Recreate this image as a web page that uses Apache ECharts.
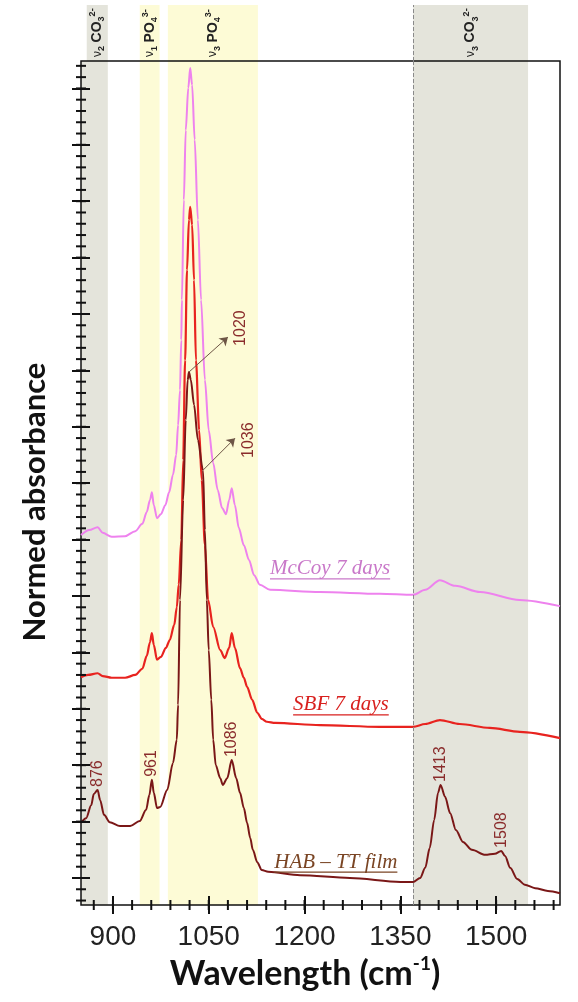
<!DOCTYPE html>
<html lang="en">
<head>
<meta charset="UTF-8">
<title>FTIR spectra</title>
<style>html,body{margin:0;padding:0;background:#fff}</style>
</head>
<body>
<div id="app" style="width:578px;height:1002px;"></div>
<script src="https://cdn.jsdelivr.net/npm/echarts@6.0.0/dist/echarts.min.js"></script>
<script>
// spectra: wavenumber (cm-1) and normed absorbance (offset curves)
const mccoyWave = [850,863,876,884,898,919,935,946,953,958,
  961,964,969,975,982,988,994,999,1002,1005,
  1007,1008,1011,1014,1018,1021,1024,1028,1033,1038,
  1044,1050,1057,1064,1071,1077,1082,1086,1091,1097,
  1105,1113,1121,1130,1146,1224,1318,1370,1389,1412,
  1436,1475,1537,1600];
const mccoyAbs = [6.08,6.17,6.22,6.12,6.05,6.06,6.15,6.28,6.49,6.70,
  6.84,6.61,6.38,6.45,6.61,6.84,7.15,7.50,8.03,8.65,
  9.54,10.25,12.02,13.26,14.01,14.36,14.06,13.09,11.67,10.25,
  8.83,7.94,7.36,6.88,6.56,6.45,6.70,6.91,6.61,6.21,
  5.90,5.64,5.37,5.20,5.11,5.07,5.04,5.02,5.11,5.28,
  5.18,5.07,4.93,4.82];

const sbfWave = [850,861,876,884,898,919,935,946,953,958,
  961,964,969,975,983,989,996,1000,1003,1007,
  1010,1013,1016,1019,1021,1024,1027,1030,1035,1039,
  1044,1049,1057,1068,1075,1082,1086,1091,1099,1105,
  1110,1118,1126,1133,1141,1154,1224,1318,1370,1389,
  1412,1443,1490,1537,1600];
const sbfAbs = [3.56,3.60,3.63,3.58,3.55,3.55,3.60,3.71,3.94,4.18,
  4.34,4.13,3.87,3.92,4.08,4.22,4.49,4.80,5.20,5.99,
  7.41,9.18,10.78,11.67,11.90,11.58,10.60,9.18,7.94,7.06,
  5.90,4.93,4.45,4.04,3.90,4.08,4.34,4.08,3.72,3.55,
  3.39,3.16,2.93,2.82,2.77,2.75,2.71,2.68,2.68,2.73,
  2.80,2.73,2.66,2.59,2.48];

const habWave = [850,858,866,870,876,880,886,895,911,927,
  942,952,957,961,964,969,974,985,994,1000,
  1002,1005,1010,1014,1017,1019,1022,1027,1033,1041,
  1044,1047,1050,1054,1057,1061,1068,1072,1079,1086,
  1093,1099,1105,1110,1115,1119,1126,1133,1143,1193,
  1271,1350,1370,1381,1389,1396,1403,1409,1413,1420,
  1428,1437,1448,1462,1483,1498,1508,1514,1522,1533,
  1545,1561,1581,1600];
const habAbs = [0.98,1.06,1.29,1.49,1.56,1.38,1.12,0.99,0.92,0.92,
  1.01,1.21,1.47,1.74,1.51,1.24,1.26,1.56,2.04,2.45,
  3.07,4.93,6.70,8.12,8.83,8.97,8.83,8.39,7.77,7.23,
  6.17,4.93,4.04,3.16,2.45,2.00,1.77,1.65,1.77,2.09,
  1.77,1.51,1.24,0.98,0.71,0.50,0.28,0.14,0.11,0.05,
  0.00,-0.07,-0.07,0.00,0.18,0.53,1.03,1.51,1.65,1.44,
  1.15,0.85,0.64,0.50,0.41,0.43,0.48,0.39,0.18,-0.02,
  -0.12,-0.18,-0.23,-0.27];

const xTickLabels = [900, 1050, 1200, 1350, 1500];
const peakLabels = [876, 961, 1086, 1413, 1508];
const arrowLabels = ['1020', '1036'];
const arrowFrom = [1019, 1041];

// absorption bands
const bandNames = ['{n|ν}{s|2} {b|CO}{s|3}{p|2-}', '{n|ν}{s|1} {b|PO}{s|4}{p|3-}', '{n|ν}{s|3} {b|PO}{s|4}{p|3-}', '{n|ν}{s|3} {b|CO}{s|3}{p|2-}'];
const bandFrom = [850, 942, 986, 1370];
const bandTo = [892, 973, 1127, 1550];
const bandKind = ['co3', 'po4', 'po4', 'co3'];

const BAND_COL = { co3: '#e4e4db', po4: '#fdfbd6' };
const X_MIN = 850, X_MAX = 1600, Y_MIN = -0.479, Y_MAX = 14.486;
const GRID = { left: 81, right: 18, top: 61, bottom: 97 };
const W = 578, H = 1002;

const zip = (a, b) => a.map((v, i) => [v, b[i]]);
const xMinor = [];
for (let v = 870; v <= 1590; v += 30) xMinor.push(v);
const yMajor = [];
for (let v = 0; v <= 14; v++) yMajor.push(v);
const yMinor = [];
for (let k = -2; k <= 72; k++) yMinor.push(Math.round(k * 20) / 100);

const TICK = { color: '#111', width: 2 };

const chart = echarts.init(document.getElementById('app'));

const bandSeries = (xi, yi, clipFirst) => ({
  type: 'line', xAxisIndex: xi, yAxisIndex: yi, data: [], z: 1, silent: true,
  markArea: {
    silent: true,
    data: bandFrom.map((f, i) => [
      { xAxis: (clipFirst && i === 0) ? 859 : f, itemStyle: { color: BAND_COL[bandKind[i]], opacity: 1 } },
      { xAxis: bandTo[i] }
    ])
  },
  markLine: {
    silent: true, symbol: 'none', label: { show: false },
    lineStyle: { type: 'dashed', color: '#8a8a8a', width: 1 },
    data: [{ xAxis: bandFrom[3] }]
  }
});

const option = {
  animation: false,
  backgroundColor: '#fff',
  grid: [
    Object.assign({ show: true, borderColor: '#111', borderWidth: 1.5, z: 3 }, GRID),
    { left: GRID.left, right: GRID.right, top: 5, height: 56 }
  ],
  xAxis: [
    // major ticks straddling the frame + labels
    { gridIndex: 0, type: 'value', position: 'bottom', min: X_MIN, max: X_MAX, z: 5, offset: -9,
      axisLine: { show: false, onZero: false }, splitLine: { show: false },
      axisTick: { customValues: xTickLabels, length: 18, lineStyle: TICK },
      axisLabel: { customValues: xTickLabels, formatter: v => String(v),
        fontFamily: 'Liberation Sans', fontSize: 28, color: '#222', margin: 27 } },
    { gridIndex: 1, type: 'value', min: X_MIN, max: X_MAX, show: false }
  ],
  yAxis: [
    { gridIndex: 0, type: 'value', position: 'left', min: Y_MIN, max: Y_MAX, z: 5, offset: -9,
      axisLine: { show: false, onZero: false }, axisLabel: { show: false }, splitLine: { show: false },
      axisTick: { customValues: yMajor, length: 18, lineStyle: TICK } },
    { gridIndex: 1, type: 'value', min: 0, max: 1, show: false }
  ],
  series: [
    bandSeries(0, 0, false),
    bandSeries(1, 1, true),
    { name: 'McCoy 7 days', type: 'line', data: zip(mccoyWave, mccoyAbs), symbol: 'none', silent: true,
      smooth: 0.3, smoothMonotone: 'x', lineStyle: { color: '#ee82ee', width: 2 } },
    { name: 'SBF 7 days', type: 'line', data: zip(sbfWave, sbfAbs), symbol: 'none', silent: true,
      smooth: 0.3, smoothMonotone: 'x', lineStyle: { color: '#e8231f', width: 2.2 } },
    { name: 'HAB – TT film', type: 'line', data: zip(habWave, habAbs), symbol: 'none', silent: true,
      smooth: 0.3, smoothMonotone: 'x', lineStyle: { color: '#7a1717', width: 2 } }
  ]
};
chart.setOption(option);

// ---- annotations positioned from the axes ----
const toPx = (w, a) => chart.convertToPixel({ gridIndex: 0 }, [w, a]);
const habAt = w => habAbs[habWave.indexOf(w)];
const gfx = [];
const txt = (x, y, rot, style) => ({ type: 'text', x: x, y: y, rotation: rot, z: 20, style: style });
const seg = (x1, y1, x2, y2) => ({ type: 'line', z: 30,
  shape: { x1: x1, y1: y1, x2: x2, y2: y2 }, style: { stroke: '#111', lineWidth: 2 } });

// minor ticks crossing the frame
const frameBottom = H - GRID.bottom, frameLeft = GRID.left;
xMinor.forEach(v => {
  const x = chart.convertToPixel({ xAxisIndex: 0 }, v);
  gfx.push(seg(x, frameBottom - 5, x, frameBottom + 5));
});
yMinor.forEach(v => {
  const y = chart.convertToPixel({ yAxisIndex: 0 }, v);
  gfx.push(seg(frameLeft - 5, y, frameLeft + 5, y));
});

// arrows to 1020 / 1036 (end offsets in px)
const arrowOff = [[39, -35], [32, -32]];
const textOff = [[52, -44], [46, -30]];
const arrowData = [];
arrowFrom.forEach((w, i) => {
  const p = toPx(w, habAt(w));
  const end = chart.convertFromPixel({ gridIndex: 0 }, [p[0] + arrowOff[i][0], p[1] + arrowOff[i][1]]);
  arrowData.push([{ coord: [w, habAt(w)] }, { coord: end }]);
  gfx.push(txt(p[0] + textOff[i][0], p[1] + textOff[i][1], Math.PI / 2,
    { text: arrowLabels[i], fontFamily: 'Liberation Sans', fontSize: 16, fill: '#8a2c2c',
      align: 'center', verticalAlign: 'middle', textAlign: 'center', textVerticalAlign: 'middle' }));
});

// peak labels on the HAB curve
peakLabels.forEach(w => {
  const p = toPx(w, habAt(w));
  gfx.push(txt(p[0], p[1] - 3, Math.PI / 2,
    { text: String(w), fontFamily: 'Liberation Sans', fontSize: 16, fill: '#8a2c2c',
      align: 'left', verticalAlign: 'middle', textAlign: 'left', textVerticalAlign: 'middle' }));
});

// band captions above the frame
const bandRich = {
  n: { fontSize: 12, fontFamily: 'Liberation Sans', fill: '#222', lineHeight: 18 },
  b: { fontSize: 14, fontWeight: 'bold', fontFamily: 'Liberation Sans', fill: '#222', lineHeight: 18 },
  s: { fontSize: 9, fontWeight: 'bold', fontFamily: 'Liberation Sans', fill: '#222', verticalAlign: 'bottom', lineHeight: 18 },
  p: { fontSize: 9, fontWeight: 'bold', fontFamily: 'Liberation Sans', fill: '#222', verticalAlign: 'top', lineHeight: 18 }
};
bandNames.forEach((t, i) => {
  const from = i === 0 ? 859 : bandFrom[i];
  const x = chart.convertToPixel({ xAxisIndex: 0 }, (from + bandTo[i]) / 2);
  gfx.push(txt(x, 57, Math.PI / 2,
    { text: t, rich: bandRich, fontSize: 13, fill: '#222',
      align: 'left', verticalAlign: 'middle', textAlign: 'left', textVerticalAlign: 'middle' }));
});

// underlined series captions
const ctx = document.createElement('canvas').getContext('2d');
const tags = [
  { text: 'McCoy 7 days', color: '#c978c9', at: [1240, 5.48] },
  { text: 'SBF 7 days', color: '#d8201e', at: [1257, 3.07] },
  { text: 'HAB – TT film', color: '#7a4524', at: [1249, 0.28] }
];
tags.forEach(t => {
  const font = 'italic 21px "Liberation Serif"';
  ctx.font = font;
  const wdt = ctx.measureText(t.text).width;
  const p = toPx(t.at[0], t.at[1]);
  gfx.push(txt(p[0], p[1], 0, { text: t.text, font: font, fill: t.color,
    align: 'center', verticalAlign: 'middle', textAlign: 'center', textVerticalAlign: 'middle' }));
  gfx.push({ type: 'line', z: 20, shape: { x1: p[0] - wdt / 2, y1: p[1] + 10, x2: p[0] + wdt / 2, y2: p[1] + 10 },
    style: { stroke: t.color, lineWidth: 1.2 } });
});

// axis titles
gfx.push(txt(35, 502, Math.PI / 2,
  { text: 'Normed absorbance', fontFamily: 'Lato', fontWeight: 'bold', fontSize: 31, fill: '#111',
    align: 'center', verticalAlign: 'middle', textAlign: 'center', textVerticalAlign: 'middle' }));
gfx.push(txt(305, 974, 0,
  { text: '{a|Wavelength (cm}{s|-1}{a|)}', fill: '#111',
    rich: {
      a: { fontFamily: 'Lato', fontWeight: 'bold', fontSize: 34, fill: '#111', lineHeight: 40 },
      s: { fontFamily: 'Lato', fontWeight: 'bold', fontSize: 19, fill: '#111', lineHeight: 40, verticalAlign: 'top' }
    },
    align: 'center', verticalAlign: 'middle', textAlign: 'center', textVerticalAlign: 'middle' }));

chart.setOption({
  series: [{}, {}, {}, {}, {
    markLine: { silent: true, symbol: ['none', 'arrow'], symbolSize: 8,
      label: { show: false }, lineStyle: { color: '#6d5545', width: 1, type: 'solid' },
      data: arrowData }
  }],
  graphic: gfx
});
</script>
</body>
</html>
